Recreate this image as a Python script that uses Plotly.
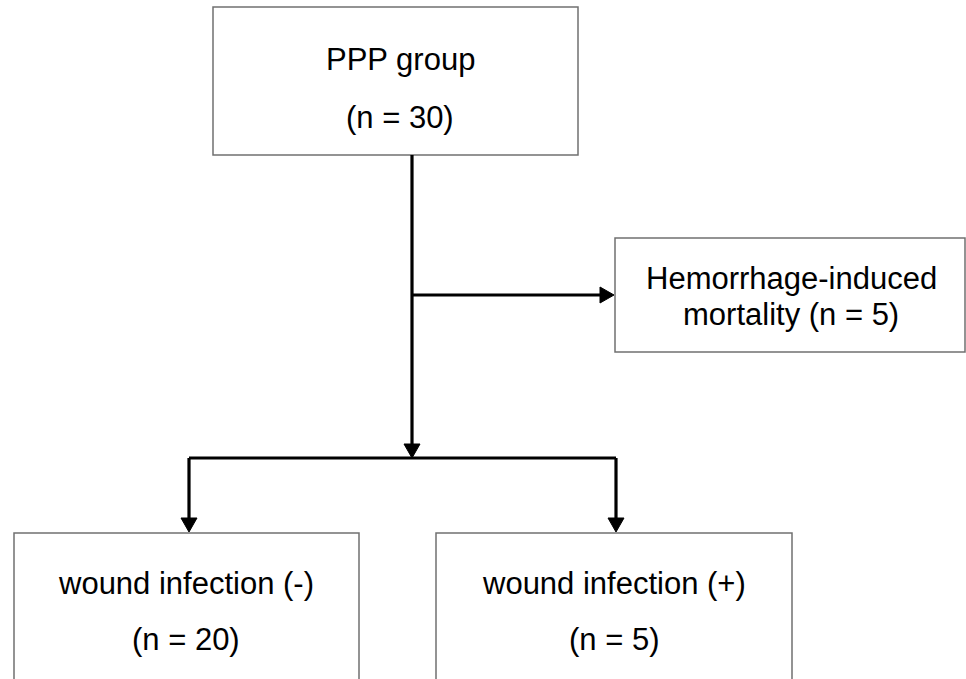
import plotly.graph_objects as go

# Data
node_names = ["PPP group", "Hemorrhage-induced", "wound infection (-)", "wound infection (+)"]
node_counts = [30, 5, 20, 5]

W, H = 966, 679
FONT = "Liberation Sans, Arial, sans-serif"
FS = 31
BOX_COLOR = "#707070"

# Box geometry (layout)
boxes = [
    (213, 7, 578, 155),    # top
    (615, 238, 965, 352),  # right
    (14, 533, 359, 700),   # bottom left
    (436, 533, 792, 700),  # bottom right
]

fig = go.Figure()
shapes = []
for (x0, y0, x1, y1) in boxes:
    shapes.append(dict(type="rect", x0=x0, y0=y0, x1=x1, y1=y1, xref="x", yref="y",
                       line=dict(color=BOX_COLOR, width=1.5), fillcolor="white", layer="below"))

LW = 3.2
def line(x0, y0, x1, y1):
    shapes.append(dict(type="line", x0=x0, y0=y0, x1=x1, y1=y1, xref="x", yref="y",
                       line=dict(color="black", width=LW)))

def head_down(x, ytip, hw=8, hl=14):
    shapes.append(dict(type="path", xref="x", yref="y",
                       path=f"M {x-hw},{ytip-hl} L {x+hw},{ytip-hl} L {x},{ytip} Z",
                       fillcolor="black", line=dict(color="black", width=1)))

def head_right(xtip, y, hw=8, hl=14):
    shapes.append(dict(type="path", xref="x", yref="y",
                       path=f"M {xtip-hl},{y-hw} L {xtip-hl},{y+hw} L {xtip},{y} Z",
                       fillcolor="black", line=dict(color="black", width=1)))

# main vertical
line(412, 155, 412, 448)
head_down(412, 458)
# branch to right box
line(412, 295, 603, 295)
head_right(614, 295)
# horizontal split
line(189, 458, 616, 458)
line(189, 458, 189, 522)
head_down(189, 532)
line(616, 458, 616, 522)
head_down(616, 532)

annotations = []
def txt(x, y, s):
    annotations.append(dict(x=x, y=y, xref="x", yref="y", text=s, showarrow=False,
                            font=dict(family=FONT, size=FS, color="black"),
                            xanchor="center", yanchor="middle"))

txt(400, 59, node_names[0])
txt(400, 117, f"(n = {node_counts[0]})")
txt(791, 278, node_names[1])
txt(791, 314, f"mortality (n = {node_counts[1]})")
txt(186, 583, node_names[2])
txt(186, 639, f"(n = {node_counts[2]})")
txt(614, 583, node_names[3])
txt(614, 639, f"(n = {node_counts[3]})")

fig.update_layout(
    width=W, height=H,
    margin=dict(l=0, r=0, t=0, b=0),
    paper_bgcolor="white", plot_bgcolor="white",
    xaxis=dict(range=[0, W], visible=False, fixedrange=True),
    yaxis=dict(range=[H, 0], visible=False, fixedrange=True),
    shapes=shapes, annotations=annotations, showlegend=False,
)

fig.write_html("out.html", config={"displayModeBar": False},
               post_script="document.body.style.margin='0';document.body.style.overflow='hidden';")
